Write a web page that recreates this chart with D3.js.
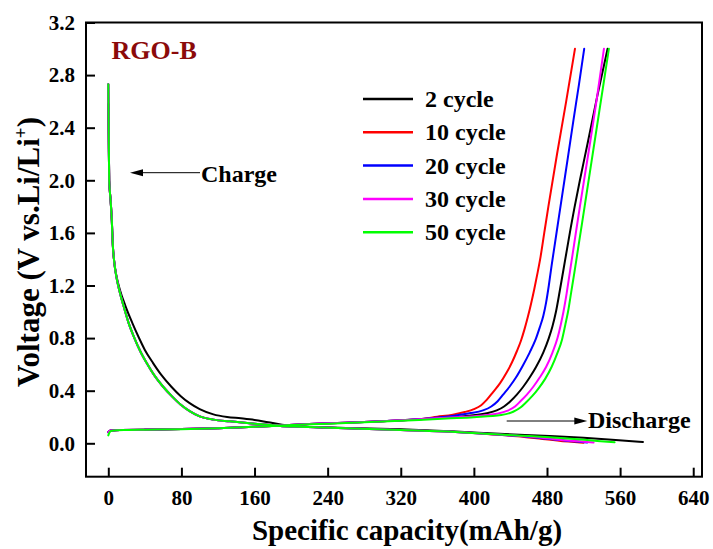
<!DOCTYPE html>
<html>
<head>
<meta charset="utf-8">
<script src="https://cdn.jsdelivr.net/npm/d3@7"></script>
<style>
  html, body { margin: 0; padding: 0; background: #fff; }
  svg { display: block; font-family: "Liberation Serif", "Times New Roman", serif; font-weight: bold; }
</style>
</head>
<body>
<svg id="chart" width="713" height="549"></svg>
<script>
// Axis ticks
const capacityTicks = [0, 80, 160, 240, 320, 400, 480, 560, 640];
const voltageTicks = [0, 0.4, 0.8, 1.2, 1.6, 2.0, 2.4, 2.8, 3.2];

// Legend entries and line colours
const cycleNames = ["2 cycle", "10 cycle", "20 cycle", "30 cycle", "50 cycle"];
const cycleColors = ["#000000", "#ff0000", "#0000ff", "#ff00ff", "#00ff00"];

// Falling branch [capacity mAh/g, voltage V] — steep start shared by cycles 10–50
const fallHead = [[0, 2.73], [0.5, 2.3], [1.0, 2.0], [2.5, 1.85], [3.8, 1.7], [5, 1.5], [6.5, 1.38],
  [9, 1.26], [12.5, 1.15], [16.5, 1.05], [22, 0.92], [28, 0.81], [35, 0.7], [42, 0.61], [50, 0.52],
  [60, 0.43], [70, 0.355], [79, 0.295], [89, 0.245], [100, 0.205], [115, 0.18], [133, 0.167],
  [160, 0.149], [188, 0.132], [210, 0.126], [260, 0.115], [320, 0.101], [380, 0.086]];
const fall2 = [[0, 2.58], [0.5, 2.3], [1.0, 2.0], [2.5, 1.85], [3.8, 1.7], [5, 1.5], [6.5, 1.38],
  [9, 1.27], [13, 1.16], [19, 1.04], [26, 0.92], [33, 0.81], [40, 0.71], [49, 0.61], [58, 0.52],
  [69, 0.43], [79, 0.36], [89, 0.305], [100, 0.26], [115, 0.22], [130, 0.2], [145, 0.19], [160, 0.178],
  [175, 0.16], [190, 0.142], [210, 0.128], [260, 0.117], [320, 0.106], [380, 0.09], [428, 0.072],
  [483, 0.056], [520, 0.042], [555, 0.026], [585, 0.01]];
const fall10Tail = [[428, 0.064], [455, 0.048], [475, 0.032], [495, 0.018], [510, 0.01], [520, 0.005]];
const fall20Tail = [[428, 0.065], [458, 0.05], [480, 0.034], [500, 0.02], [515, 0.012], [524, 0.006]];
const fall30Tail = [[428, 0.066], [460, 0.052], [482, 0.036], [505, 0.02], [520, 0.012], [531, 0.006]];
const fall50Tail = [[428, 0.066], [460, 0.056], [483, 0.046], [510, 0.032], [535, 0.018], [554, 0.008]];

// Rising branch [capacity mAh/g, voltage V]
const riseHead = [[0, 0.085], [1, 0.092], [3, 0.097], [8, 0.1], [15, 0.101], [40, 0.104], [80, 0.108],
  [120, 0.115], [160, 0.126], [190, 0.136], [220, 0.146], [260, 0.156], [300, 0.168], [340, 0.183]];
const riseHead50 = [[0, 0.06], [1.5, 0.085], [4, 0.095], [10, 0.099], [20, 0.101], [40, 0.103],
  [80, 0.107], [120, 0.114], [160, 0.125], [190, 0.135], [220, 0.144], [260, 0.154], [300, 0.165], [340, 0.178]];
const rise2Tail = [[370, 0.196], [395, 0.21], [414, 0.228], [425, 0.25], [433, 0.28], [440, 0.32],
  [447, 0.37], [454, 0.43], [461, 0.5], [468, 0.58], [475.9, 0.69], [482, 0.8], [486, 0.89],
  [489.8, 1.0], [494, 1.16], [498, 1.32], [502, 1.48], [506, 1.64], [510, 1.79], [516, 2.0],
  [524.4, 2.28], [535, 2.64], [546.3, 3.0]];
const rise10Tail = [[360, 0.202], [377, 0.218], [390, 0.238], [400, 0.26], [408, 0.29], [414, 0.33],
  [421, 0.39], [428.5, 0.456], [436, 0.54], [442, 0.62], [447, 0.7], [451.5, 0.78], [455.5, 0.87],
  [459, 0.96], [462.5, 1.06], [466, 1.17], [469.5, 1.29], [473, 1.42], [477, 1.6], [481.5, 1.8],
  [491, 2.2], [501, 2.6], [510.6, 3.0]];
const rise20Tail = [[360, 0.196], [380, 0.212], [395, 0.228], [410, 0.25], [419, 0.28], [426, 0.32],
  [432, 0.37], [439, 0.43], [446, 0.5], [453.5, 0.59], [461, 0.69], [467, 0.78], [472, 0.88],
  [476, 0.97], [479, 1.07], [482, 1.2], [485, 1.35], [488.7, 1.52], [493, 1.72], [498, 1.95],
  [503, 2.18], [509, 2.46], [515, 2.73], [520.7, 3.0]];
const rise30Tail = [[370, 0.194], [400, 0.206], [425, 0.224], [437, 0.248], [445, 0.28], [451, 0.32],
  [458, 0.37], [465, 0.43], [472, 0.5], [479, 0.58], [486, 0.69], [491.5, 0.8], [495, 0.9],
  [498, 1.0], [501.5, 1.14], [505, 1.3], [508.5, 1.46], [512, 1.62], [516, 1.8], [521, 2.02],
  [527, 2.28], [534.5, 2.62], [542.3, 3.0]];
const rise50Tail = [[370, 0.189], [400, 0.199], [430, 0.215], [443, 0.24], [451, 0.272], [457, 0.31],
  [464, 0.36], [471, 0.42], [478, 0.49], [485, 0.58], [491, 0.68], [496.5, 0.79], [500, 0.9],
  [503, 1.0], [506.5, 1.15], [510, 1.3], [514, 1.48], [518.5, 1.68], [524, 1.93], [530, 2.2],
  [536, 2.47], [542, 2.74], [547.7, 3.0]];

// One entry per cycle: both branches of its voltage profile
const cycles = [
  { name: cycleNames[0], fall: fall2, rise: riseHead.concat(rise2Tail) },
  { name: cycleNames[1], fall: fallHead.concat(fall10Tail), rise: riseHead.concat(rise10Tail) },
  { name: cycleNames[2], fall: fallHead.concat(fall20Tail), rise: riseHead.concat(rise20Tail) },
  { name: cycleNames[3], fall: fallHead.concat(fall30Tail), rise: riseHead.concat(rise30Tail) },
  { name: cycleNames[4], fall: fallHead.concat(fall50Tail), rise: riseHead50.concat(rise50Tail) }
];

const svg = d3.select("#chart");
const plot = { left: 86, right: 702, top: 22.5, bottom: 476.7 };

const x = d3.scaleLinear().domain([-24.4, 649.6]).range([plot.left, plot.right]);
const y = d3.scaleLinear().domain([-0.254, 3.2]).range([plot.bottom, plot.top]);

// Axes with inward ticks
const xAxis = d3.axisBottom(x).tickValues(capacityTicks).tickFormat(d3.format("d"))
  .tickSizeInner(-9).tickSizeOuter(0).tickPadding(13);
const yAxis = d3.axisLeft(y).tickValues(voltageTicks).tickFormat(d3.format(".1f"))
  .tickSizeInner(-9).tickSizeOuter(0).tickPadding(11);

const gx = svg.append("g").attr("transform", `translate(0,${plot.bottom})`).call(xAxis);
const gy = svg.append("g").attr("transform", `translate(${plot.left},0)`).call(yAxis);
[gx, gy].forEach(g => {
  g.select(".domain").remove();
  g.selectAll(".tick line").attr("stroke", "#000").attr("stroke-width", 2);
  g.selectAll(".tick text").attr("fill", "#000")
    .style("font-family", "'Liberation Serif', 'Times New Roman', serif")
    .style("font-weight", "bold").style("font-size", "21px");
});

// Curves
const line = d3.line().x(d => x(d[0])).y(d => y(d[1])).curve(d3.curveMonotoneX);
const curves = svg.append("g").attr("fill", "none").attr("stroke-width", 2)
  .attr("stroke-linejoin", "round").attr("stroke-linecap", "round");
cycles.forEach((c, i) => {
  curves.append("path").attr("d", line(c.rise)).attr("stroke", cycleColors[i]);
  curves.append("path").attr("d", line(c.fall)).attr("stroke", cycleColors[i]);
});

// Plot frame
svg.append("rect")
  .attr("x", plot.left).attr("y", plot.top)
  .attr("width", plot.right - plot.left).attr("height", plot.bottom - plot.top)
  .attr("fill", "none").attr("stroke", "#000").attr("stroke-width", 2);

// Axis titles
svg.append("text")
  .attr("x", 407).attr("y", 540).attr("text-anchor", "middle")
  .style("font-size", "29px").text("Specific capacity(mAh/g)");
const yTitle = svg.append("text")
  .attr("transform", "translate(39,252) rotate(-90)").attr("text-anchor", "middle")
  .style("font-size", "31px");
yTitle.append("tspan").text("Voltage (V vs.Li/Li");
yTitle.append("tspan").attr("dy", -12).style("font-size", "19px").text("+");
yTitle.append("tspan").attr("dy", 12).text(")");

// Sample name
svg.append("text").attr("x", 111.5).attr("y", 59).attr("fill", "#8b0a0a")
  .style("font-size", "26px").text("RGO-B");

// Legend
const legend = svg.append("g");
cycleNames.forEach((name, i) => {
  const ly = 99 + i * 33.3;
  legend.append("line").attr("x1", 363).attr("x2", 413).attr("y1", ly).attr("y2", ly)
    .attr("stroke", cycleColors[i]).attr("stroke-width", 2.5);
  legend.append("text").attr("x", 425).attr("y", ly + 8).style("font-size", "24px").text(name);
});

// Annotation arrows
function arrow(x1, x2, yy) {
  const dir = Math.sign(x2 - x1);
  svg.append("line").attr("x1", x1).attr("x2", x2 - dir * 8).attr("y1", yy).attr("y2", yy)
    .attr("stroke", "#000").attr("stroke-width", 1);
  svg.append("path")
    .attr("d", `M${x2},${yy} L${x2 - dir * 13},${yy - 3.5} L${x2 - dir * 13},${yy + 3.5} Z`)
    .attr("fill", "#000");
}
arrow(200, 130, 172.7);
svg.append("text").attr("x", 201).attr("y", 182).style("font-size", "24px").text("Charge");
arrow(506.7, 587.3, 421);
svg.append("text").attr("x", 588).attr("y", 428).style("font-size", "24px").text("Discharge");
</script>
</body>
</html>
